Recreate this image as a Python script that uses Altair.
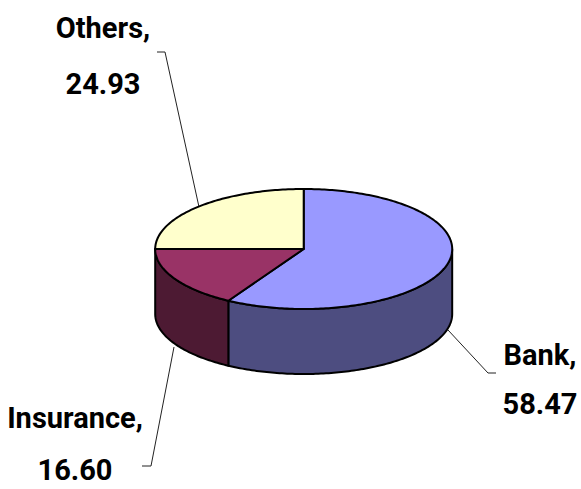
import math
import altair as alt
import pandas as pd

# Portfolio shares, drawn clockwise from twelve o'clock
names = ["Bank", "Insurance", "Others"]
shares = [58.47, 16.60, 24.93]
top_colors = ["#9999FF", "#993366", "#FFFFCC"]
wall_colors = ["#4D4D80", "#4D1A33", "#80805F"]

# Projected disc geometry, in canvas units
W, H = 581, 489
CX, CY, RX, RY, DEPTH = 303.7, 249.0, 148.5, 60.0, 65.0

# Label centres (x) and baselines of the two text lines
label_x = [540, 75, 103]
label_name_y = [365, 428, 38]
label_value_y = [414, 480, 94]

# Leader lines: start on the disc, elbow, end next to the label
leader_paths = [
    [(448, 330), (488, 373), (496, 373)],
    [(174, 347), (151, 466), (142, 466)],
    [(199, 207), (165, 52), (157, 52)],
]

x_scale = alt.Scale(domain=[0, W], range=[0, W], nice=False, zero=False)
y_scale = alt.Scale(domain=[0, H], range=[0, H], nice=False, zero=False)
x_enc = alt.X("x:Q", scale=x_scale, axis=None)
y_enc = alt.Y("y:Q", scale=y_scale, axis=None)


def rim(angle, drop=0.0):
    t = math.radians(angle)
    return CX + RX * math.sin(t), CY - RY * math.cos(t) + drop


def polygon(points, fill):
    df = pd.DataFrame(
        [{"x": p[0], "y": p[1], "i": i} for i, p in enumerate(points)]
    )
    return (
        alt.Chart(df)
        .mark_line(
            fill=fill,
            stroke="#000000",
            strokeWidth=2,
            strokeJoin="round",
            interpolate="linear-closed",
        )
        .encode(x=x_enc, y=y_enc, order=alt.Order("i:Q"))
    )


def sweep(a0, a1, drop=0.0):
    n = max(2, int(abs(a1 - a0)) + 1)
    return [rim(a0 + (a1 - a0) * k / (n - 1), drop) for k in range(n)]


layers = []

# Leaders sit beneath the disc
for path in leader_paths:
    df = pd.DataFrame([{"x": p[0], "y": p[1], "i": i} for i, p in enumerate(path)])
    layers.append(
        alt.Chart(df)
        .mark_line(stroke="#222222", strokeWidth=1)
        .encode(x=x_enc, y=y_enc, order=alt.Order("i:Q"))
    )

# Slice spans in degrees
total = sum(shares)
spans = []
start = 0.0
for share in shares:
    end = start + share / total * 360.0
    spans.append((start, end))
    start = end

# Outer walls of the front half
for (a0, a1), wall in zip(spans, wall_colors):
    lo, hi = max(a0, 90.0), min(a1, 270.0)
    if lo < hi:
        layers.append(polygon(sweep(lo, hi) + sweep(hi, lo, DEPTH), wall))

# Top faces
for (a0, a1), top in zip(spans, top_colors):
    layers.append(polygon([(CX, CY)] + sweep(a0, a1), top))

# Two-line labels: name, then value
label_rows = []
for n, s, lx, ny, vy in zip(names, shares, label_x, label_name_y, label_value_y):
    label_rows.append({"x": lx, "y": ny, "t": f"{n},"})
    label_rows.append({"x": lx, "y": vy, "t": f"{s:.2f}"})

layers.append(
    alt.Chart(pd.DataFrame(label_rows))
    .mark_text(
        font="Roboto",
        fontWeight="bold",
        fontSize=29,
        color="#000000",
        align="center",
        baseline="alphabetic",
    )
    .encode(x=x_enc, y=y_enc, text="t:N")
)

chart = (
    alt.layer(*layers)
    .properties(width=W, height=H, padding=0, autosize=alt.AutoSizeParams(type="none"), background="#FFFFFF")
    .configure_view(stroke=None)
)

chart.save("out.html", embed_options={"renderer": "svg", "actions": False})
